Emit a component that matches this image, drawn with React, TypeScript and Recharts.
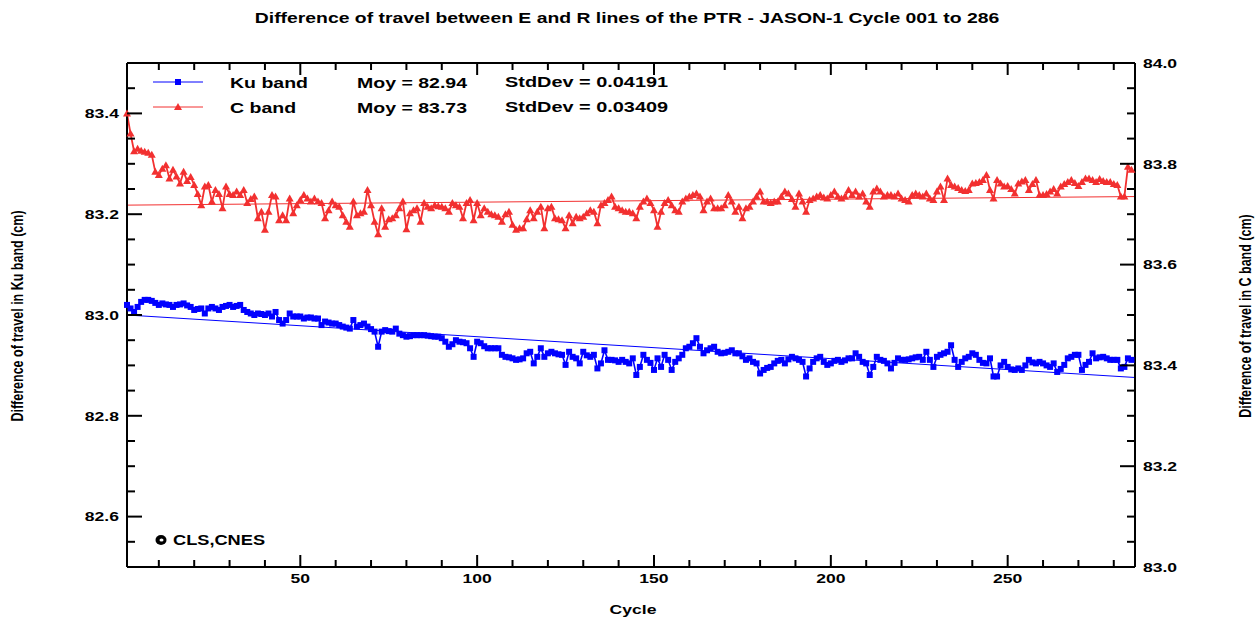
import React from 'react';
import { LineChart, Line, XAxis, YAxis } from 'recharts';

// Jason-1 PTR, difference of travel between E and R lines, cycles 001..285
const firstCycle = 1;

const kuBand = [
  83.020, 83.013, 83.006, 83.016, 83.026, 83.030, 83.030, 83.028, 83.024, 83.020,
  83.023, 83.021, 83.020, 83.016, 83.020, 83.021, 83.023, 83.019, 83.016, 83.010,
  83.012, 83.013, 83.003, 83.013, 83.016, 83.013, 83.010, 83.016, 83.018, 83.020,
  83.016, 83.018, 83.020, 83.010, 83.006, 83.003, 83.000, 83.003, 83.002, 83.000,
  83.003, 82.997, 83.006, 82.990, 82.983, 82.990, 83.003, 82.997, 82.997, 82.997,
  82.993, 82.995, 82.995, 82.993, 82.993, 82.980, 82.987, 82.985, 82.983, 82.983,
  82.980, 82.977, 82.975, 82.973, 82.990, 82.977, 82.980, 82.983, 82.977, 82.972,
  82.967, 82.937, 82.967, 82.970, 82.968, 82.967, 82.973, 82.963, 82.960, 82.957,
  82.958, 82.960, 82.960, 82.960, 82.960, 82.959, 82.958, 82.957, 82.957, 82.954,
  82.947, 82.937, 82.942, 82.950, 82.947, 82.946, 82.944, 82.934, 82.917, 82.947,
  82.944, 82.938, 82.934, 82.934, 82.934, 82.934, 82.921, 82.917, 82.916, 82.914,
  82.911, 82.912, 82.914, 82.924, 82.927, 82.904, 82.917, 82.934, 82.917, 82.924,
  82.927, 82.924, 82.922, 82.921, 82.901, 82.927, 82.917, 82.914, 82.904, 82.927,
  82.920, 82.917, 82.921, 82.894, 82.904, 82.930, 82.911, 82.911, 82.910, 82.907,
  82.911, 82.907, 82.904, 82.914, 82.881, 82.897, 82.921, 82.911, 82.905, 82.891,
  82.914, 82.897, 82.921, 82.911, 82.891, 82.907, 82.914, 82.921, 82.934, 82.937,
  82.944, 82.954, 82.937, 82.924, 82.930, 82.934, 82.937, 82.927, 82.924, 82.925,
  82.927, 82.930, 82.924, 82.924, 82.918, 82.911, 82.914, 82.907, 82.904, 82.884,
  82.891, 82.895, 82.897, 82.904, 82.909, 82.911, 82.904, 82.912, 82.917, 82.914,
  82.911, 82.907, 82.878, 82.894, 82.907, 82.914, 82.917, 82.907, 82.901, 82.904,
  82.909, 82.911, 82.907, 82.910, 82.914, 82.914, 82.924, 82.917, 82.907, 82.904,
  82.881, 82.897, 82.917, 82.911, 82.909, 82.904, 82.894, 82.905, 82.914, 82.911,
  82.911, 82.912, 82.914, 82.916, 82.917, 82.911, 82.927, 82.911, 82.897, 82.917,
  82.921, 82.924, 82.927, 82.940, 82.911, 82.897, 82.907, 82.914, 82.917, 82.924,
  82.921, 82.911, 82.905, 82.904, 82.914, 82.878, 82.878, 82.900, 82.907, 82.897,
  82.892, 82.891, 82.894, 82.891, 82.900, 82.911, 82.906, 82.904, 82.907, 82.904,
  82.900, 82.897, 82.904, 82.887, 82.893, 82.901, 82.914, 82.917, 82.921, 82.921,
  82.891, 82.901, 82.907, 82.924, 82.914, 82.916, 82.917, 82.914, 82.911, 82.911,
  82.911, 82.894, 82.897, 82.914, 82.911,
];

const cBand = [
  83.900, 83.860, 83.825, 83.830, 83.826, 83.824, 83.822, 83.818, 83.784, 83.778,
  83.790, 83.797, 83.771, 83.788, 83.775, 83.761, 83.784, 83.766, 83.774, 83.758,
  83.740, 83.718, 83.755, 83.758, 83.725, 83.748, 83.740, 83.712, 83.755, 83.740,
  83.738, 83.745, 83.738, 83.748, 83.722, 83.730, 83.735, 83.692, 83.705, 83.669,
  83.705, 83.738, 83.735, 83.688, 83.698, 83.688, 83.731, 83.702, 83.718, 83.728,
  83.738, 83.731, 83.725, 83.731, 83.725, 83.722, 83.692, 83.708, 83.725, 83.718,
  83.715, 83.698, 83.685, 83.675, 83.725, 83.698, 83.702, 83.705, 83.748, 83.718,
  83.685, 83.660, 83.712, 83.675, 83.690, 83.692, 83.698, 83.712, 83.725, 83.670,
  83.702, 83.708, 83.712, 83.685, 83.722, 83.715, 83.712, 83.718, 83.716, 83.715,
  83.712, 83.705, 83.722, 83.718, 83.715, 83.692, 83.722, 83.728, 83.688, 83.722,
  83.698, 83.712, 83.705, 83.700, 83.698, 83.695, 83.685, 83.700, 83.705, 83.679,
  83.669, 83.672, 83.672, 83.690, 83.708, 83.692, 83.705, 83.715, 83.672, 83.712,
  83.715, 83.692, 83.690, 83.688, 83.672, 83.698, 83.682, 83.695, 83.692, 83.695,
  83.702, 83.708, 83.705, 83.682, 83.718, 83.722, 83.728, 83.735, 83.715, 83.712,
  83.708, 83.705, 83.705, 83.702, 83.692, 83.715, 83.725, 83.731, 83.722, 83.708,
  83.675, 83.705, 83.722, 83.728, 83.718, 83.708, 83.705, 83.725, 83.731, 83.735,
  83.738, 83.741, 83.735, 83.708, 83.725, 83.731, 83.712, 83.712, 83.712, 83.718,
  83.738, 83.725, 83.705, 83.715, 83.692, 83.712, 83.715, 83.725, 83.735, 83.745,
  83.725, 83.725, 83.722, 83.725, 83.725, 83.735, 83.745, 83.741, 83.730, 83.715,
  83.741, 83.725, 83.705, 83.728, 83.731, 83.735, 83.738, 83.733, 83.731, 83.738,
  83.745, 83.735, 83.731, 83.735, 83.748, 83.738, 83.745, 83.735, 83.741, 83.725,
  83.715, 83.745, 83.751, 83.745, 83.735, 83.738, 83.738, 83.735, 83.741, 83.731,
  83.728, 83.725, 83.738, 83.741, 83.738, 83.735, 83.741, 83.731, 83.728, 83.745,
  83.755, 83.728, 83.771, 83.758, 83.755, 83.752, 83.748, 83.746, 83.748, 83.761,
  83.762, 83.764, 83.768, 83.778, 83.748, 83.731, 83.768, 83.761, 83.755, 83.756,
  83.750, 83.741, 83.761, 83.765, 83.768, 83.748, 83.760, 83.768, 83.738, 83.738,
  83.740, 83.745, 83.750, 83.741, 83.755, 83.760, 83.764, 83.768, 83.762, 83.756,
  83.764, 83.771, 83.771, 83.768, 83.764, 83.770, 83.766, 83.764, 83.764, 83.760,
  83.758, 83.735, 83.735, 83.794, 83.788,
];

// linear fits, end points
const fitCycles = [1, 286];
const kuFit = [83.0, 82.876];
const cFit = [83.718, 83.735];

const cycleTicks = [10, 20, 30, 40, 50, 60, 70, 80, 90, 100, 110, 120, 130, 140, 150, 160, 170, 180, 190, 200, 210, 220, 230, 240, 250, 260, 270, 280];
const kuTicks = [82.5, 82.55, 82.6, 82.65, 82.7, 82.75, 82.8, 82.85, 82.9, 82.95, 83.0, 83.05, 83.1, 83.15, 83.2, 83.25, 83.3, 83.35, 83.4, 83.45, 83.5];
const cTicks = [83.0, 83.05, 83.1, 83.15, 83.2, 83.25, 83.3, 83.35, 83.4, 83.45, 83.5, 83.55, 83.6, 83.65, 83.7, 83.75, 83.8, 83.85, 83.9, 83.95, 84.0];

const legendRows = [
  { name: 'Ku band', moy: '82.94', std: '0.04191' },
  { name: 'C band', moy: '83.73', std: '0.03409' },
];

const rows = kuBand.map((ku, i) => ({ cycle: firstCycle + i, ku, c: cBand[i] }));
const kuFitRows = fitCycles.map((cycle, i) => ({ cycle, v: kuFit[i] }));
const cFitRows = fitCycles.map((cycle, i) => ({ cycle, v: cFit[i] }));

const BLUE = '#0000ff';
const RED = '#f23030';
const FONT = '"Liberation Sans", Arial, Helvetica, sans-serif';
const SX = 1.3; // the original picture is stretched sideways

const isMajor = (v: number, step: number) => Math.abs(v / step - Math.round(v / step)) < 1e-6;

function LeftTick(props: any) {
  const { x, y, payload } = props;
  const major = isMajor(payload.value, 0.2);
  return (
    <g>
      <line x1={x} y1={y} x2={x + (major ? 15 : 8)} y2={y} stroke="#000" strokeWidth={2} />
      {major && (
        <text transform={`translate(${x - 8},${y}) scale(${SX},1)`} textAnchor="end" dominantBaseline="central"
          fontSize={13.5} fontWeight="bold" fontFamily={FONT} fill="#000">
          {payload.value.toFixed(1)}
        </text>
      )}
    </g>
  );
}

function RightTick(props: any) {
  const { x, y, payload } = props;
  const major = isMajor(payload.value, 0.2);
  return (
    <g>
      <line x1={x} y1={y} x2={x - (major ? 15 : 8)} y2={y} stroke="#000" strokeWidth={2} />
      {major && (
        <text transform={`translate(${x + 8},${y}) scale(${SX},1)`} textAnchor="start" dominantBaseline="central"
          fontSize={13.5} fontWeight="bold" fontFamily={FONT} fill="#000">
          {payload.value.toFixed(1)}
        </text>
      )}
    </g>
  );
}

function BottomTick(props: any) {
  const { x, y, payload } = props;
  const major = payload.value % 50 === 0;
  return (
    <g>
      <line x1={x} y1={y} x2={x} y2={y - (major ? 12 : 7)} stroke="#000" strokeWidth={2} />
      {major && (
        <text transform={`translate(${x},${y + 16}) scale(${SX},1)`} textAnchor="middle"
          fontSize={13.5} fontWeight="bold" fontFamily={FONT} fill="#000">
          {payload.value}
        </text>
      )}
    </g>
  );
}

function TopTick(props: any) {
  const { x, y, payload } = props;
  const major = payload.value % 50 === 0;
  return <line x1={x} y1={y} x2={x} y2={y + (major ? 12 : 7)} stroke="#000" strokeWidth={2} />;
}

function Square({ cx, cy }: { cx?: number; cy?: number }) {
  if (cx == null || cy == null) return null;
  return <rect x={cx - 3} y={cy - 3} width={6} height={6} fill={BLUE} />;
}

function Triangle({ cx, cy }: { cx?: number; cy?: number }) {
  if (cx == null || cy == null) return null;
  return <polygon points={`${cx},${cy - 4} ${cx + 4},${cy + 3} ${cx - 4},${cy + 3}`} fill={RED} />;
}

function Txt({ x, y, size = 14, bold = false, center = false, rotate = false, children }: any) {
  const style: React.CSSProperties = {
    position: 'absolute',
    left: x,
    top: y,
    fontFamily: FONT,
    fontSize: size,
    lineHeight: `${size}px`,
    fontWeight: bold ? 'bold' : 'normal',
    whiteSpace: 'nowrap',
    color: '#000',
    transformOrigin: center || rotate ? 'center center' : 'left center',
    transform: rotate
      ? `translate(-50%,-50%) scaleX(${SX}) rotate(-90deg)`
      : center
        ? `translate(-50%,-50%) scaleX(${SX})`
        : `translateY(-50%) scaleX(${SX})`,
  };
  return <div style={style}>{children}</div>;
}

export default function App() {
  return (
    <div style={{ position: 'absolute', left: 0, top: 0, width: 1258, height: 619, background: '#fff' }}>
      <LineChart width={1258} height={619} data={rows} margin={{ top: 62, right: 0, bottom: 0, left: 0 }}>
        <XAxis xAxisId="bottom" dataKey="cycle" type="number" domain={[1, 286]} ticks={cycleTicks} interval={0}
          height={52} tickSize={0} tickMargin={0} tickLine={false} axisLine={{ stroke: '#000', strokeWidth: 2 }}
          tick={(p: any) => <BottomTick {...p} />} />
        <XAxis xAxisId="top" orientation="top" dataKey="cycle" type="number" domain={[1, 286]} ticks={cycleTicks} interval={0}
          height={1} tickSize={0} tickMargin={0} tickLine={false} axisLine={{ stroke: '#000', strokeWidth: 2 }}
          tick={(p: any) => <TopTick {...p} />} />
        <YAxis yAxisId="left" type="number" domain={[82.5, 83.5]} ticks={kuTicks} interval={0} width={127}
          tickSize={0} tickMargin={0} tickLine={false} axisLine={{ stroke: '#000', strokeWidth: 2 }}
          tick={(p: any) => <LeftTick {...p} />} allowDataOverflow />
        <YAxis yAxisId="right" orientation="right" type="number" domain={[83.0, 84.0]} ticks={cTicks} interval={0} width={123}
          tickSize={0} tickMargin={0} tickLine={false} axisLine={{ stroke: '#000', strokeWidth: 2 }}
          tick={(p: any) => <RightTick {...p} />} allowDataOverflow />

        <Line xAxisId="top" yAxisId="left" data={kuFitRows} dataKey="v" stroke={BLUE} strokeWidth={1}
          dot={false} activeDot={false} isAnimationActive={false} />
        <Line xAxisId="bottom" yAxisId="right" data={cFitRows} dataKey="v" stroke={RED} strokeWidth={1}
          dot={false} activeDot={false} isAnimationActive={false} />
        <Line xAxisId="bottom" yAxisId="left" dataKey="ku" stroke={BLUE} strokeWidth={1.6} activeDot={false}
          dot={(p: any) => <Square key={`k${p.index}`} cx={p.cx} cy={p.cy} />} isAnimationActive={false} />
        <Line xAxisId="bottom" yAxisId="right" dataKey="c" stroke={RED} strokeWidth={1.8} activeDot={false}
          dot={(p: any) => <Triangle key={`c${p.index}`} cx={p.cx} cy={p.cy} />} isAnimationActive={false} />
      </LineChart>

      {/* legend glyphs and the copyright mark */}
      <svg style={{ position: 'absolute', left: 0, top: 0 }} width={1258} height={619} pointerEvents="none">
        <line x1={153} y1={82} x2={203} y2={82} stroke={BLUE} strokeWidth={1} />
        <Square cx={178} cy={82} />
        <line x1={153} y1={107} x2={203} y2={107} stroke={RED} strokeWidth={1} />
        <Triangle cx={178} cy={107} />
        <ellipse cx={161} cy={540} rx={5.5} ry={5} fill="#000" />
        <ellipse cx={161.5} cy={540} rx={2} ry={1.6} fill="#fff" />
      </svg>

      <Txt x={627} y={18} size={14.9} bold center>
        Difference of travel between E and R lines of the PTR - JASON-1 Cycle 001 to 286
      </Txt>
      {legendRows.map((r, i) => (
        <React.Fragment key={r.name}>
          <Txt x={230} y={82 + i * 25} size={15} bold>{r.name}</Txt>
          <Txt x={357} y={82 + i * 25} size={15} bold>Moy = {r.moy}</Txt>
          <Txt x={505} y={82 + i * 25} size={15.3} bold>StdDev = {r.std}</Txt>
        </React.Fragment>
      ))}
      <Txt x={173} y={540} size={14} bold>CLS,CNES</Txt>
      <Txt x={633} y={610} size={13.5} bold center>Cycle</Txt>
      <Txt x={18} y={316} size={12.5} bold rotate>Difference of travel in Ku band (cm)</Txt>
      <Txt x={1246} y={316} size={12.5} bold rotate>Difference of travel in C band (cm)</Txt>
    </div>
  );
}
